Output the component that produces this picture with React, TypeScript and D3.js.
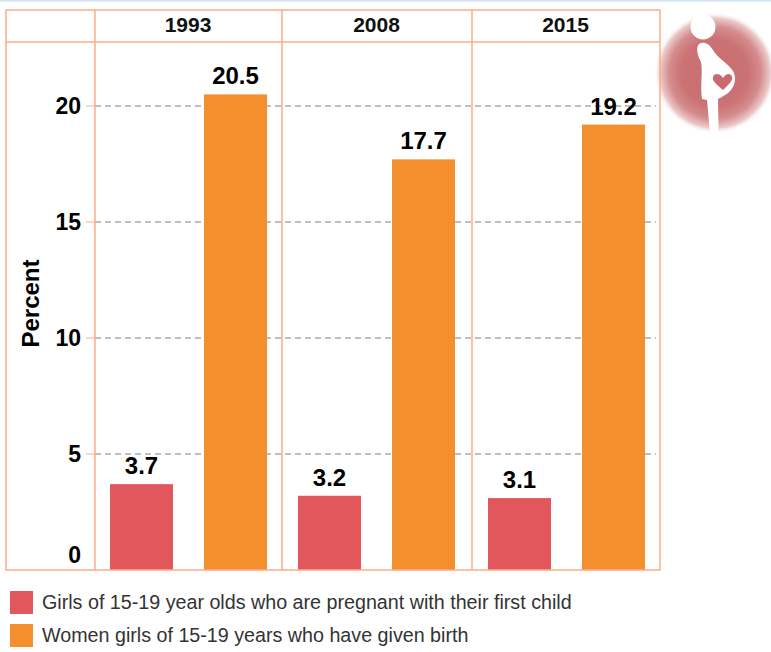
import React from "react";
import * as d3 from "d3";

const years = ["1993", "2008", "2015"];
const firstChild = [3.7, 3.2, 3.1];
const gaveBirth = [20.5, 17.7, 19.2];
const yTicks = [0, 5, 10, 15, 20];
const legendLabels = [
  "Girls of 15-19 year olds who are pregnant with their first child",
  "Women girls of 15-19 years who have given birth",
];
const colors = ["#e2575b", "#f48f2e"];
const frame = "#ffab88";
const font = "'Liberation Sans', Arial, sans-serif";

export default function App() {
  const y = d3.scaleLinear().domain([0, 20]).range([570, 106]);
  const panelLeft = d3.scaleOrdinal<string, number>().domain(years).range([95, 282, 472]);
  const panelRight = d3.scaleOrdinal<string, number>().domain(years).range([282, 472, 660]);
  const inner = d3.scaleOrdinal<string, number>().domain(["a", "b"]).range([16, 110]);
  const barW = 63;
  const series = [firstChild, gaveBirth];
  const keys = ["a", "b"];
  const offsets = d3.scaleOrdinal<string, number>().domain(years).range([-1, 0, 0]);
  return (
    <svg
      width={771}
      height={652}
      viewBox="0 0 771 652"
      style={{ position: "absolute", left: 0, top: 0, background: "#fff" }}
      fontFamily={font}
    >
      <defs>
        <radialGradient id="halo">
          <stop offset="0%" stopColor="#c96e70" />
          <stop offset="55%" stopColor="#cb7274" />
          <stop offset="75%" stopColor="#d48c8d" />
          <stop offset="90%" stopColor="#ecc8c8" />
          <stop offset="100%" stopColor="#ffffff" stopOpacity={0} />
        </radialGradient>
        <filter id="soft" x="-10%" y="-10%" width="120%" height="120%">
          <feGaussianBlur stdDeviation="0.5" />
        </filter>
      </defs>
      <rect x={0} y={0} width={771} height={1.5} fill="#cfe2f3" />

      <circle cx={715} cy={73} r={61} fill="url(#halo)" />
      <g fill="#fff" filter="url(#soft)">
        <circle cx={703} cy={27} r={12.5} />
        <path d="M699 44 C703 41 709 43 713 50 C717 58 728 63 733 71 C738 80 733 91 725 95 C722 97 720 98 718 99 L718.5 128 C718.5 135 710 135 709.5 128 L707 100 L702 99 C700 85 703 72 701 62 C697 55 696 47 699 44 Z" />
      </g>
      <path
        d="M723 90 C716 84 712 81 713 77 C714 73 720 73 723 78 C726 73 731 73 732 77 C733 81 729 84 723 90 Z"
        fill="#cb6a6e"
      />

      {yTicks.filter((t) => t > 0).map((t) => (
        <g key={t}>
          <line x1={86} x2={95} y1={y(t)} y2={y(t)} stroke={frame} strokeWidth={1} />
          <line x1={95} x2={656} y1={y(t)} y2={y(t)} stroke="#808080" strokeWidth={1} strokeDasharray="6 4" />
        </g>
      ))}

      {years.map((yr, i) =>
        series.map((s, k) => (
          <rect
            key={yr + k}
            x={panelLeft(yr) + inner(keys[k]) + offsets(yr)}
            y={y(s[i])}
            width={barW}
            height={y(0) - y(s[i])}
            fill={colors[k]}
          />
        ))
      )}

      <rect x={6} y={10} width={654} height={560} fill="none" stroke={frame} strokeWidth={1.5} />
      <line x1={6} x2={660} y1={42} y2={42} stroke={frame} strokeWidth={1.5} />
      <line x1={95} x2={95} y1={10} y2={570} stroke={frame} strokeWidth={1.5} />
      {years.slice(0, 2).map((yr) => (
        <line key={yr} x1={panelRight(yr)} x2={panelRight(yr)} y1={10} y2={570} stroke={frame} strokeWidth={1.5} />
      ))}

      {years.map((yr) => (
        <text
          key={yr}
          x={(panelLeft(yr) + panelRight(yr)) / 2 - 0.5}
          y={32}
          textAnchor="middle"
          fontSize={21}
          fontWeight={700}
          fill="#111"
        >
          {yr}
        </text>
      ))}

      {years.map((yr, i) =>
        series.map((s, k) => (
          <text
            key={yr + k}
            x={panelLeft(yr) + inner(keys[k]) + offsets(yr) + barW / 2}
            y={y(s[i]) - 10}
            textAnchor="middle"
            fontSize={24}
            fontWeight={700}
            fill="#000"
          >
            {s[i].toFixed(1)}
          </text>
        ))
      )}

      {yTicks.map((t) => (
        <text
          key={t}
          x={81}
          y={t === 0 ? 563 : y(t) + 8}
          textAnchor="end"
          fontSize={23}
          fontWeight={700}
          fill="#000"
        >
          {t}
        </text>
      ))}

      <text
        transform="translate(39,303.5) rotate(-90)"
        textAnchor="middle"
        fontSize={24}
        fontWeight={700}
        fill="#000"
      >
        Percent
      </text>

      {legendLabels.map((label, k) => (
        <g key={label}>
          <rect x={10} y={591 + k * 33} width={23} height={23} fill={colors[k]} />
          <text x={42} y={609 + k * 33} fontSize={19.7} fill="#333">
            {label}
          </text>
        </g>
      ))}
    </svg>
  );
}
